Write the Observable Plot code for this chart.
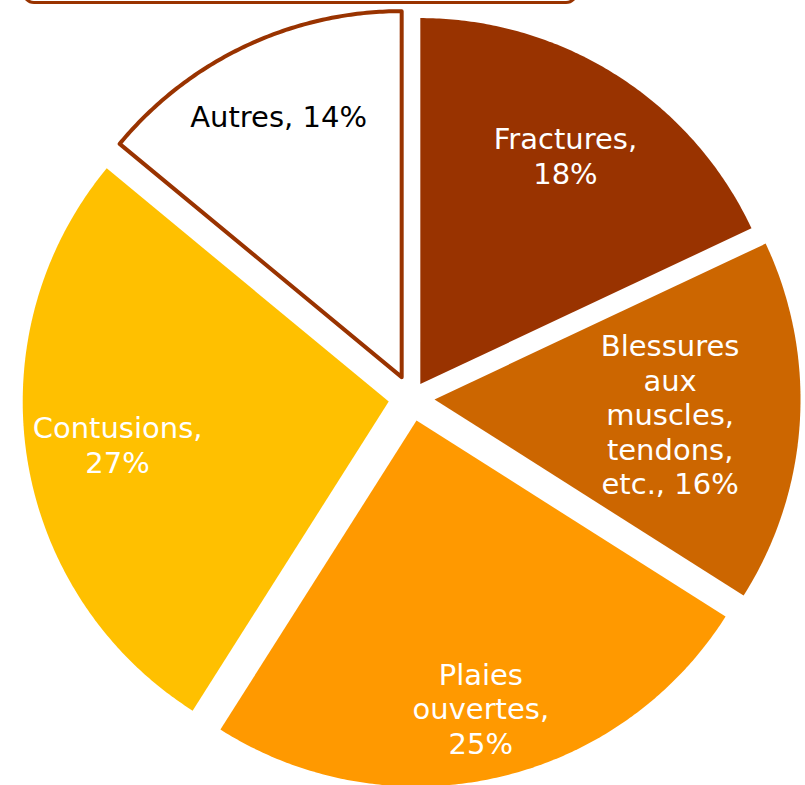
<!DOCTYPE html>
<html>
<head>
<meta charset="utf-8">
<script src="https://cdn.jsdelivr.net/npm/d3@7"></script>
<script src="https://cdn.jsdelivr.net/npm/@observablehq/plot@0.6"></script>
<style>
  html, body { margin: 0; padding: 0; background: #fff; overflow: hidden; }
  #wrap { position: relative; width: 805px; height: 785px; }
  #titlebox { position: absolute; left: 22px; top: -36px; width: 556px; height: 40px;
    border: 3px solid #993300; border-radius: 12px; background: #fff; box-sizing: border-box; }
  #chart { position: absolute; left: 0; top: 0; }
</style>
</head>
<body>
<div id="wrap"><div id="chart"></div><div id="titlebox"></div></div>
<script>
// ---- data ----
const categories = ["Fractures", "Blessures aux muscles, tendons, etc.", "Plaies ouvertes", "Contusions", "Autres"];
const values = [18, 16, 25, 27, 14];
const labelLines = ["Fractures,\n18%", "Blessures\naux\nmuscles,\ntendons,\netc., 16%", "Plaies\nouvertes,\n25%", "Contusions,\n27%", "Autres, 14%"];
const colors = ["#993300", "#CC6600", "#FF9900", "#FFC000", "#FFFFFF"];
const labelColors = ["#FFFFFF", "#FFFFFF", "#FFFFFF", "#FFFFFF", "#000000"];

// ---- layout (pie radius = 1 unit) ----
const W = 805, H = 785;
const R = 366, CX = 411, CY = 397.5;   // pixels
const explode = [0.045, 0.063, 0.063, 0.063, 0.063];   // point explosion, fraction of radius
const labelRadius = [0.74, 0.645, 0.805, 0.75, 0.79]; // label distance along mid-angle, fraction of radius

const arcs = d3.pie().sort(null).startAngle(0).endAngle(2 * Math.PI)(values);

const slices = [];
arcs.forEach((a, i) => {
  const m = (a.startAngle + a.endAngle) / 2;
  const e = explode[i];
  const ox = e * Math.sin(m), oy = e * Math.cos(m);
  slices.push({cat: categories[i], x: ox, y: oy, fill: colors[i]});
  const n = Math.max(2, Math.ceil((a.endAngle - a.startAngle) / (Math.PI / 360)));
  for (let k = 0; k <= n; k++) {
    const t = a.startAngle + (a.endAngle - a.startAngle) * k / n;
    slices.push({cat: categories[i], x: ox + Math.sin(t), y: oy + Math.cos(t), fill: colors[i]});
  }
});

const labels = arcs.map((a, i) => {
  const m = (a.startAngle + a.endAngle) / 2;
  const d = labelRadius[i] + explode[i];
  return {text: labelLines[i], x: d * Math.sin(m), y: d * Math.cos(m), color: labelColors[i]};
});

const chart = Plot.plot({
  width: W, height: H,
  margin: 0,
  style: {fontFamily: "'DejaVu Sans', Verdana, sans-serif", background: "transparent"},
  x: {domain: [-CX / R, (W - CX) / R], axis: null},
  y: {domain: [-(H - CY) / R, CY / R], axis: null},
  color: {type: "identity"},
  marks: [
    Plot.line(slices, {x: "x", y: "y", z: "cat", fill: "fill", stroke: null, curve: "linear-closed"}),
    Plot.line(slices.filter(d => d.cat === "Autres"), {x: "x", y: "y", z: "cat", fill: "none",
      stroke: "#993300", strokeWidth: 4, strokeLinejoin: "round", curve: "linear-closed"}),
    Plot.text(labels, {x: "x", y: "y", text: "text", fill: "color", fontSize: 29,
      lineHeight: 1.19, textAnchor: "middle", lineAnchor: "middle"})
  ]
});
document.getElementById("chart").appendChild(chart);
</script>
</body>
</html>
